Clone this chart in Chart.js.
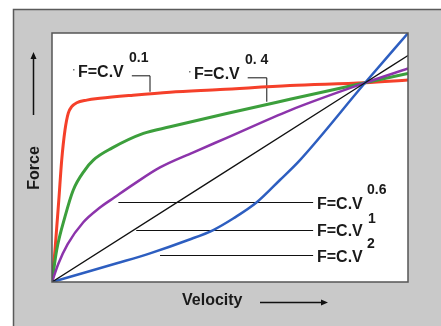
<!DOCTYPE html>
<html>
<head>
<meta charset="utf-8">
<script src="https://cdn.jsdelivr.net/npm/chart.js@4/dist/chart.umd.min.js"></script>
<style>
  body { margin: 0; background: #fff; }
  canvas { display: block; }
</style>
</head>
<body>
<canvas id="forceChart" width="441" height="326"></canvas>
<script>
// curves (velocity, force), crossing at V=1, F=1
const redV = [0, 0.0096, 0.0217, 0.031, 0.0415, 0.052, 0.063, 0.079, 0.111, 0.153, 0.259, 0.377, 0.537, 0.76, 1, 1.137];
const redF = [0, 0.161, 0.411, 0.612, 0.763, 0.848, 0.88, 0.9, 0.913, 0.922, 0.938, 0.953, 0.966, 0.986, 1, 1.014];

const greenV = [0, 0.015, 0.0415, 0.068, 0.105, 0.132, 0.191, 0.292, 0.377, 0.558, 0.76, 1, 1.137];
const greenF = [0, 0.161, 0.328, 0.462, 0.562, 0.612, 0.672, 0.746, 0.779, 0.846, 0.917, 1, 1.047];

const purpleV = [0, 0.02, 0.05, 0.1, 0.15, 0.2, 0.26, 0.345, 0.45, 0.56, 0.76, 1, 1.137];
const purpleF = [0, 0.09, 0.19, 0.3, 0.37, 0.425, 0.49, 0.575, 0.65, 0.725, 0.862, 1, 1.072];

const blackV = [0, 0.5, 1, 1.137];
const blackF = [0, 0.5, 1, 1.137];

const blueV = [0, 0.1, 0.207, 0.313, 0.435, 0.515, 0.58, 0.654, 0.728, 0.792, 1, 1.137];
const blueF = [0, 0.045, 0.094, 0.144, 0.211, 0.261, 0.32, 0.4, 0.512, 0.612, 1, 1.249];

// label texts
const baseLabel = "F=C.V";
const exponents = ["0.1", "0. 4", "0.6", "1", "2"];
const xTitle = "Velocity";
const yTitle = "Force";

function pts(xs, ys) {
  return xs.map((x, i) => ({ x: x, y: ys[i] }));
}

function line(data, color, width) {
  return {
    data: data,
    borderColor: color,
    borderWidth: width,
    pointRadius: 0,
    showLine: true,
    fill: false,
    cubicInterpolationMode: "monotone",
  };
}

// gray frame, white plot box, titles and the labels
const decor = {
  id: "decor",
  beforeDraw(chart) {
    const c = chart.ctx;
    const a = chart.chartArea;
    c.save();
    c.fillStyle = "#ffffff";
    c.fillRect(0, 0, chart.width, chart.height);
    c.fillStyle = "#c9c9c9";
    c.fillRect(13, 9, chart.width - 13, chart.height - 9);
    c.strokeStyle = "#5a5a5a";
    c.lineWidth = 1.5;
    c.beginPath();
    c.moveTo(13.5, chart.height);
    c.lineTo(13.5, 9.5);
    c.lineTo(chart.width, 9.5);
    c.stroke();
    c.fillStyle = "#ffffff";
    c.fillRect(a.left, a.top, a.right - a.left, a.bottom - a.top);
    c.restore();
  },
  beforeDatasetsDraw(chart) {
    const c = chart.ctx;
    const xs = chart.scales.x;
    const ys = chart.scales.y;
    const X = (v) => xs.getPixelForValue(v);
    const Y = (v) => ys.getPixelForValue(v);
    c.save();
    c.strokeStyle = "#111";
    c.lineWidth = 1;
    // leaders to the three lower labels
    [[0.212, 0.40], [0.269, 0.261], [0.345, 0.135]].forEach(([x0, f]) => {
      c.beginPath();
      c.moveTo(X(x0), Math.round(Y(f)) + 0.5);
      c.lineTo(X(0.834), Math.round(Y(f)) + 0.5);
      c.stroke();
    });
    // bracket leaders to the top labels
    c.beginPath();
    c.moveTo(X(0.255), Y(1.035));
    c.lineTo(X(0.313), Y(1.035));
    c.lineTo(X(0.313), Y(0.955));
    c.moveTo(X(0.625), Y(1.025));
    c.lineTo(X(0.686), Y(1.025));
    c.lineTo(X(0.686), Y(0.905));
    c.stroke();
    c.restore();
  },
  afterDraw(chart) {
    const c = chart.ctx;
    const a = chart.chartArea;
    c.save();
    c.strokeStyle = "#555";
    c.lineWidth = 1.5;
    c.strokeRect(a.left, a.top, a.right - a.left, a.bottom - a.top);

    c.fillStyle = "#1a1a1a";
    c.textBaseline = "alphabetic";
    c.textAlign = "left";
    const big = "bold 16px 'Liberation Sans', Arial, sans-serif";
    const small = "bold 14px 'Liberation Sans', Arial, sans-serif";
    // [x, baseline, exponent x, exponent baseline]
    const spots = [
      [78, 77, 129, 62],
      [194, 79, 245, 64],
      [317, 209, 367, 194],
      [317, 236, 368, 223],
      [317, 262, 367, 248],
    ];
    spots.forEach((s, i) => {
      c.font = big;
      c.fillText(baseLabel, s[0], s[1]);
      c.font = small;
      c.fillText(exponents[i], s[2], s[3]);
    });
    c.fillStyle = "#777";
    c.fillRect(73, 69, 1.5, 1.5);
    c.fillRect(189, 71, 1.5, 1.5);

    // axis titles with arrows
    c.fillStyle = "#1a1a1a";
    c.font = big;
    c.textAlign = "left";
    c.fillText(xTitle, 182, 305);
    c.save();
    c.translate(39, 168);
    c.rotate(-Math.PI / 2);
    c.textAlign = "center";
    c.fillText(yTitle, 0, 0);
    c.restore();

    c.strokeStyle = "#111";
    c.lineWidth = 1.5;
    c.beginPath();
    c.moveTo(260, 302.5);
    c.lineTo(322, 302.5);
    c.moveTo(33.5, 115);
    c.lineTo(33.5, 58);
    c.stroke();
    c.beginPath();
    c.moveTo(328, 302.5);
    c.lineTo(321, 299.5);
    c.lineTo(321, 305.5);
    c.closePath();
    c.moveTo(33.5, 52);
    c.lineTo(30.5, 59);
    c.lineTo(36.5, 59);
    c.closePath();
    c.fillStyle = "#111";
    c.fill();
    c.restore();
  },
};

new Chart(document.getElementById("forceChart"), {
  type: "scatter",
  data: {
    datasets: [
      line(pts(blackV, blackF), "#111111", 1.3),
      line(pts(blueV, blueF), "#2d5ec0", 2.5),
      line(pts(purpleV, purpleF), "#8c34ab", 2.5),
      line(pts(greenV, greenF), "#3c9f3c", 3),
      line(pts(redV, redF), "#f5402a", 3),
    ],
  },
  options: {
    responsive: false,
    animation: false,
    layout: { padding: { left: 52, top: 33, right: 33, bottom: 44 } },
    plugins: { legend: { display: false }, tooltip: { enabled: false } },
    scales: {
      x: { type: "linear", min: 0, max: 1.137, display: false },
      y: { type: "linear", min: 0, max: 1.25, display: false },
    },
  },
  plugins: [decor],
});
</script>
</body>
</html>
